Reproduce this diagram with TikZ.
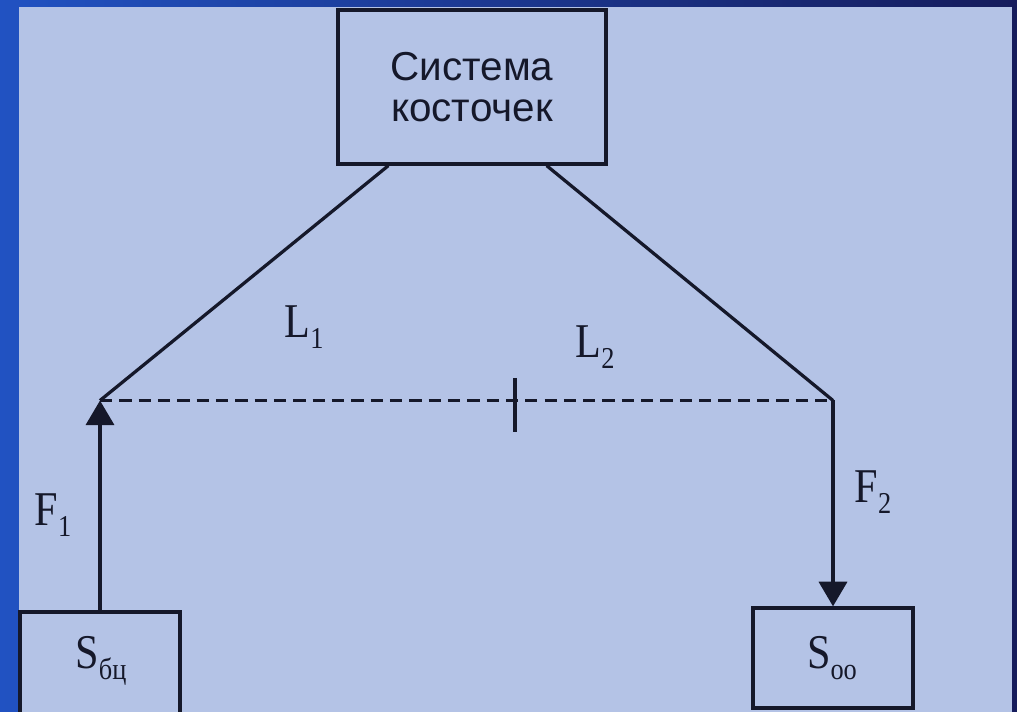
\documentclass[tikz,border=0pt]{standalone}
\usepackage{fontspec}
\setmainfont{Liberation Serif}
\newfontfamily\sansru{Liberation Sans}
\usetikzlibrary{arrows.meta,calc}
\definecolor{outerL}{HTML}{2152C2}
\definecolor{outerR}{HTML}{161C5C}
\definecolor{innerbg}{HTML}{B4C3E6}
\definecolor{ink}{HTML}{15182A}
\tikzset{
  boxst/.style={draw=ink,line width=1.9pt,fill=innerbg,inner sep=0pt},
  wire/.style={draw=ink,line width=1.85pt},
  dashwire/.style={draw=ink,line width=1.9pt,dash pattern=on 7pt off 4pt},
  arr/.style={wire,-{Triangle[width=16pt,length=14pt]}},
  lab/.style={inner sep=0pt,text=ink,font=\fontsize{24}{24}\selectfont},
}
\newcommand{\lowidx}[1]{\raisebox{-0.22em}{\fontsize{15}{15}\selectfont #1}}
\newcommand{\tallbox}[1]{\scalebox{1}[1.15]{#1}}
\begin{document}
\begin{tikzpicture}[x=0.02cm,y=-0.02cm]
\useasboundingbox (0,0) rectangle (1017,712);
\shade[left color=outerL,right color=outerR] (0,0) rectangle (1017,712);
\fill[innerbg] (19,7) rectangle (1012,712);
\clip (0,0) rectangle (1017,712);
% boxes
\node[boxst,minimum width=5.36cm,minimum height=3.08cm,align=center,
      font=\sansru\fontsize{23}{23.5}\selectfont,text=ink] (top) at (472,87)
      {Система\\косточек};
\node[boxst,minimum width=3.2cm,minimum height=2.08cm] (bl) at (100,664) {};
\node[boxst,minimum width=3.2cm,minimum height=2.0cm] (br) at (833,658) {};
% labels
\node[lab] (sbc) at (101,661) {\tallbox{S\lowidx{бц}}};
\node[lab] (soo) at (832,658) {\tallbox{S\lowidx{оо}}};
\node[lab] (l1) at (304,327) {\tallbox{L\lowidx{1}}};
\node[lab] (l2) at (595,347) {\tallbox{L\lowidx{2}}};
\node[lab] (f1) at (53,515) {\tallbox{F\lowidx{1}}};
\node[lab] (f2) at (873,492) {\tallbox{F\lowidx{2}}};
% points
\coordinate (p1) at (100,400.5);
\coordinate (p2) at (833,400.5);
\coordinate (ta) at (515,378);
\coordinate (tb) at (515,432);
% connectors
\draw[wire] ([xshift=1.04cm]top.south west) -- (p1);
\draw[wire] ([xshift=-1.22cm]top.south east) -- (p2);
\draw[dashwire] (p1) -- (p2);
\draw[wire] (ta) -- (tb);
\draw[arr] (bl.north) -- (p1);
\draw[arr] (p2) -- (br.north);
\end{tikzpicture}
\end{document}
